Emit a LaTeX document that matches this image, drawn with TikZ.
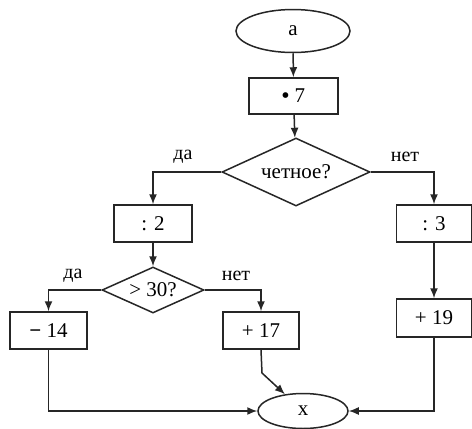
\documentclass[tikz,border=0pt]{standalone}
\usepackage{fontspec}
\setmainfont{Liberation Serif}
\usetikzlibrary{shapes.geometric,arrows.meta}
\begin{document}
\begin{tikzpicture}[x=1pt,y=-1pt,
  every node/.style={font=\fontsize{21}{24}\selectfont, inner sep=0pt},
  line/.style={line width=1.5pt, draw=black!85},
  arr/.style={line, -{Latex[length=10pt,width=8pt]}},
  term/.style={ellipse, line, fill=white},
  op/.style={rectangle, line, fill=white, minimum height=37pt},
  cond/.style={diamond, line, shape aspect=2.2},
  lab/.style={font=\fontsize{20}{23}\selectfont}]
\useasboundingbox[fill=white] (0,0) rectangle (472,429);
\node[term, minimum width=114pt, minimum height=43pt] (a) at (293,31) {a};
\node[op, minimum width=89pt, minimum height=36pt] (m7) at (293.5,96) {\textbf{•} 7};
\node[cond, minimum width=148pt, minimum height=68pt] (d1) at (296,172) {четное?};
\node[op, minimum width=78pt] (c2) at (153,223.5) {: 2};
\node[op, minimum width=75pt] (c3) at (434,223.5) {: 3};
\node[cond, minimum width=102pt, minimum height=46pt] (d2) at (153,290) {> 30?};
\node[op, minimum width=77pt] (m14) at (48.5,330.5) {\textbf{−} 14};
\node[op, minimum width=76pt] (p17) at (261,330.5) {+ 17};
\node[op, minimum width=75pt, minimum height=38pt] (p19) at (434,318) {+ 19};
\node[term, minimum width=90pt, minimum height=35pt] (x) at (303,411) {x};
\coordinate (bend) at (262,373);
\node[lab] (l1) at (183,157) {да};
\node[lab] (l2) at (405,157) {нет};
\node[lab] (l3) at (73,276) {да};
\node[lab] (l4) at (236,276) {нет};
\draw[arr] (a) -- (m7);
\draw[arr] (m7) -- (d1);
\draw[arr] (d1.west) -| (c2.north);
\draw[arr] (d1.east) -| (c3.north);
\draw[arr] (c2) -- (d2);
\draw[arr] (d2.west) -| (m14.north);
\draw[arr] (d2.east) -| (p17.north);
\draw[arr] (c3) -- (p19);
\draw[arr] (m14.south) |- (x.west);
\draw[arr] (p19.south) |- (x.east);
\draw[arr] (p17.south) -- (bend) -- (x);
\end{tikzpicture}
\end{document}
